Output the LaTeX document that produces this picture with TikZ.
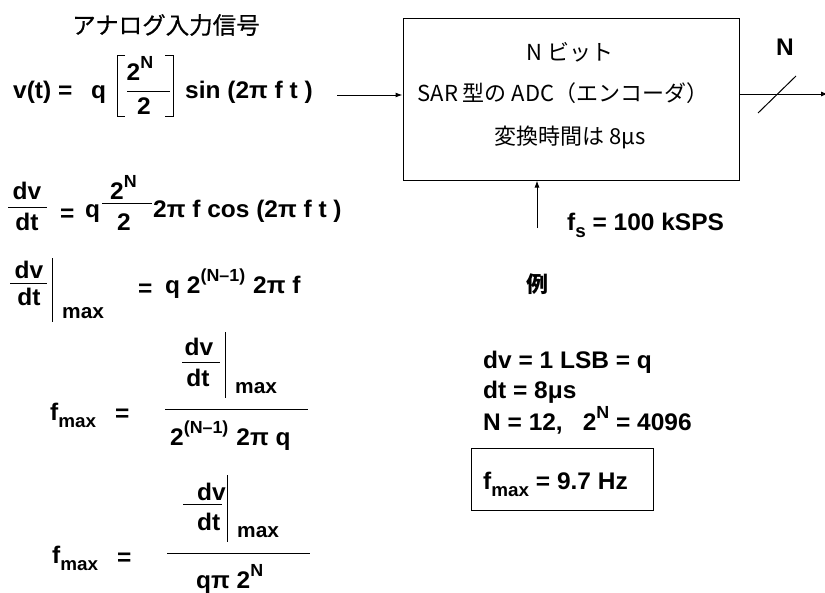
\documentclass[tikz,border=0pt]{standalone}
\usepackage{fontspec}
\setmainfont{Liberation Sans}[FakeStretch=1.02]
\newfontfamily\jp{Noto Sans CJK JP}
\newfontfamily\jpm{Noto Sans CJK JP}[FakeBold=0.6]
\usetikzlibrary{arrows.meta}
\newcommand\mysub[1]{\raisebox{-0.32em}{\fontsize{18.5}{18}\selectfont #1}}
\newcommand\mysup[1]{\raisebox{0.5em}{\fontsize{17.5}{17}\selectfont #1}}
\begin{document}
\begin{tikzpicture}[x=1pt,y=-1pt,
  txt/.style={inner sep=0pt,anchor=base west,font=\bfseries\fontsize{24}{28}\selectfont},
  ctxt/.style={txt,anchor=base},
  subtxt/.style={txt,font=\bfseries\fontsize{20.5}{24}\selectfont},
  jptxt/.style={inner sep=0pt,font=\jp\fontsize{22}{26}\selectfont},
  ln/.style={line width=1pt},
  arr/.style={ln,-{Latex[length=7pt,width=5pt]}}]
\useasboundingbox (0,0) rectangle (825,592);

% title
\node[jptxt,anchor=west,font=\jpm\fontsize{23.5}{26}\selectfont] (title) at (72,25) {アナログ入力信号};

% v(t) equation
\node[txt] (vt) at (13,98) {v(t) =};
\node[txt] (q1) at (91,98) {q};
\node[ctxt] (n1) at (140,80) {2\mysup{N}};
\node[ctxt] (d1) at (144,114) {2};
\coordinate (f1a) at (127,91); \coordinate (f1b) at (170,91);
\draw[ln] (f1a) -- (f1b);
\coordinate (bl1) at (125,55); \coordinate (bl2) at (117,55);
\coordinate (bl3) at (117,116); \coordinate (bl4) at (125,116);
\draw[ln] (bl1) -- (bl2) -- (bl3) -- (bl4);
\coordinate (br1) at (165,55); \coordinate (br2) at (173,55);
\coordinate (br3) at (173,116); \coordinate (br4) at (165,116);
\draw[ln] (br1) -- (br2) -- (br3) -- (br4);
\node[txt] (sin) at (185,98) {sin (2π f t )};

% ADC box
\node[draw,ln,minimum width=336pt,minimum height=162pt,inner sep=0pt] (adc) at (571,99) {};
\node[jptxt] (l1) at (570,52) {N ビット};
\node[jptxt] (l2) at (563,93) {SAR 型の ADC（エンコーダ）};
\node[jptxt] (l3) at (570,137) {変換時間は 8μs};

\coordinate (ain) at (337,95);
\draw[arr] (ain) -- (ain -| adc.west);

\coordinate (oa) at (739,94); \coordinate (ob) at (828,94);
\draw[arr] (oa) -- (ob);
\coordinate (sa) at (758,113); \coordinate (sb) at (796,76);
\draw[ln] (sa) -- (sb);
\node[txt,anchor=center] (nlab) at (785,47) {N};

\coordinate (fsa) at (537,228);
\draw[arr] (fsa) -- (fsa |- adc.south);
\node[txt] (fs) at (567,230) {f\mysub{s} = 100 kSPS};

% dv/dt equation
\node[ctxt] (dv1) at (27,199) {dv};
\draw[ln] (8,207) coordinate (g1a) -- (47,207) coordinate (g1b);
\node[ctxt] (dt1) at (27,230) {dt};
\node[txt] (eq1) at (60,221) {=};
\node[txt] (q2) at (85,217) {q};
\node[txt] (n2) at (110,199) {2\mysup{N}};
\draw[ln] (102,203) coordinate (g2a) -- (152,203) coordinate (g2b);
\node[txt] (d2) at (117,230) {2};
\node[txt] (cos) at (153,217) {2π f cos (2π f t )};

% dv/dt | max
\node[ctxt] (dv2) at (29,278) {dv};
\draw[ln] (10,283) coordinate (g3a) -- (47,283) coordinate (g3b);
\node[ctxt] (dt2) at (29,305) {dt};
\draw[ln] (52,258) coordinate (b1a) -- (52,322) coordinate (b1b);
\node[subtxt] (mx1) at (62,318) {max};
\node[txt] (eq2) at (138,296) {=};
\node[txt] (ex2) at (165,293) {q 2\mysup{(N–1)}\hspace{8pt}2π f};

% f_max eq 1
\node[txt] (fm1) at (50,420) {f\mysub{max}};
\node[txt] (eq3) at (115,421) {=};
\node[ctxt] (dv3) at (199,355) {dv};
\draw[ln] (182,362) coordinate (g4a) -- (220,362) coordinate (g4b);
\node[ctxt] (dt3) at (198,386) {dt};
\draw[ln] (225,332) coordinate (b2a) -- (225,398) coordinate (b2b);
\node[subtxt] (mx2) at (235,393) {max};
\draw[ln] (165,409) coordinate (g5a) -- (308,409) coordinate (g5b);
\node[txt] (den3) at (170,445) {2\mysup{(N–1)}\hspace{8pt}2π q};

% f_max eq 2
\node[txt] (fm2) at (52,563) {f\mysub{max}};
\node[txt] (eq4) at (117,565) {=};
\node[txt] (dv4) at (197,500) {dv};
\draw[ln] (183,504) coordinate (g6a) -- (222,504) coordinate (g6b);
\node[txt] (dt4) at (197,530) {dt};
\draw[ln] (227,475) coordinate (b3a) -- (227,542) coordinate (b3b);
\node[subtxt] (mx3) at (237,537) {max};
\draw[ln] (167,553) coordinate (g7a) -- (310,553) coordinate (g7b);
\node[txt] (den4) at (196,588) {qπ 2\mysup{N}};

% example
\node[jptxt,font=\jp\bfseries\fontsize{22}{26}\selectfont] (rei) at (537,284) {例};
\node[txt] (ex1) at (483,368) {dv = 1 LSB = q};
\node[txt] (ex2b) at (483,398) {dt = 8μs};
\node[txt] (ex3) at (483,430) {N = 12,\hspace{20pt}2\mysup{N} = 4096};
\node[draw,ln,minimum width=182pt,minimum height=62pt,inner sep=0pt] (res) at (562,479) {};
\node[txt] (fmr) at (483,489) {f\mysub{max} = 9.7 Hz};
\end{tikzpicture}
\end{document}
